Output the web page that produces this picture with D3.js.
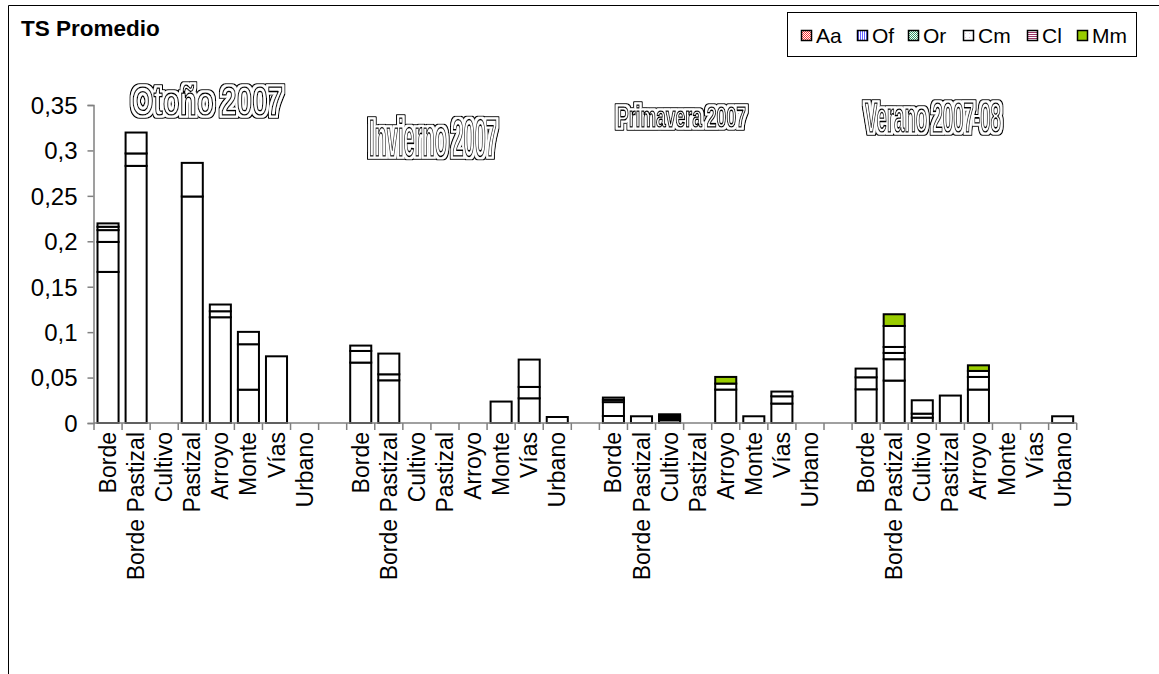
<!DOCTYPE html>
<html>
<head>
<meta charset="utf-8">
<script src="https://cdn.jsdelivr.net/npm/d3@7"></script>
<style>
  html, body { margin: 0; padding: 0; background: #fff; }
  svg { display: block; }
  text { font-family: Arial, "Liberation Sans", sans-serif; }
</style>
</head>
<body>
<svg id="chart" width="1159" height="674"></svg>
<script>
// Seasons (groups along the x axis) and habitat categories inside each season
const seasons = ["Otoño 2007", "Invierno 2007", "Primavera 2007", "Verano 2007-08"];
const habitats = ["Borde", "Borde Pastizal", "Cultivo", "Pastizal", "Arroyo", "Monte", "Vías", "Urbano"];
const seriesNames = ["Aa", "Of", "Or", "Cm", "Cl", "Mm"];
const yTicks = [0, 0.05, 0.1, 0.15, 0.2, 0.25, 0.3, 0.35];

// Average TS per species; 8 habitats per season, seasons in order
const Aa = [0.1663, 0.283, 0, 0.2493, 0.1164, 0.0367, 0.0734, 0,
            0.0665, 0.047, 0, 0, 0, 0.0236, 0.0272, 0.0066,
            0.0077, 0.0074, 0.003, 0, 0.0368, 0.0074, 0.0214, 0,
            0.0371, 0.0467, 0.0059, 0.0302, 0.0368, 0, 0, 0.0074];
const Of = [0.033, 0.0137, 0, 0.037, 0.0066, 0.05, 0, 0,
            0.0128, 0.0066, 0, 0, 0, 0, 0.0125, 0,
            0.0153, 0, 0.0022, 0, 0.0066, 0, 0.008, 0,
            0.0132, 0.0235, 0.0044, 0, 0.0139, 0, 0, 0];
const Or = [0.013, 0.023, 0, 0, 0.0074, 0.0136, 0, 0,
            0.0059, 0.0228, 0, 0, 0, 0, 0.0301, 0,
            0.0025, 0, 0.0022, 0, 0, 0, 0.0052, 0,
            0.0096, 0.0069, 0.0147, 0, 0.0066, 0, 0, 0];
const Cm = [0.0037, 0, 0, 0, 0, 0, 0, 0,
            0, 0, 0, 0, 0, 0, 0, 0,
            0.0025, 0, 0.0022, 0, 0, 0, 0, 0,
            0, 0.0066, 0, 0, 0, 0, 0, 0];
const Cl = [0.0037, 0, 0, 0, 0, 0, 0, 0,
            0, 0, 0, 0, 0, 0, 0, 0,
            0, 0, 0, 0, 0, 0, 0, 0,
            0, 0.0231, 0, 0, 0, 0, 0, 0];
const Mm = [0, 0, 0, 0, 0, 0, 0, 0,
            0, 0, 0, 0, 0, 0, 0, 0,
            0, 0, 0, 0, 0.0073, 0, 0, 0,
            0, 0.0129, 0, 0, 0.0062, 0, 0, 0];

const seriesValues = { Aa, Of, Or, Cm, Cl, Mm };

const svg = d3.select("#chart");
const defs = svg.append("defs");

// Fill patterns shown in the legend keys
function checker(id, color) {
  const p = defs.append("pattern").attr("id", id).attr("width", 2).attr("height", 2)
    .attr("patternUnits", "userSpaceOnUse");
  p.append("rect").attr("width", 2).attr("height", 2).attr("fill", "#fff");
  p.append("rect").attr("width", 1).attr("height", 1).attr("fill", color);
  p.append("rect").attr("x", 1).attr("y", 1).attr("width", 1).attr("height", 1).attr("fill", color);
}
checker("pAa", "#ff3333");
checker("pOr", "#339966");
{
  const p = defs.append("pattern").attr("id", "pOf").attr("width", 2).attr("height", 2)
    .attr("patternUnits", "userSpaceOnUse");
  p.append("rect").attr("width", 2).attr("height", 2).attr("fill", "#fff");
  p.append("rect").attr("width", 1).attr("height", 2).attr("fill", "#6666ff");
}
{
  const p = defs.append("pattern").attr("id", "pCm").attr("width", 4).attr("height", 4)
    .attr("patternUnits", "userSpaceOnUse");
  p.append("rect").attr("width", 4).attr("height", 4).attr("fill", "#fff");
  p.append("rect").attr("x", 1).attr("y", 1).attr("width", 1).attr("height", 1).attr("fill", "#e8c8d8");
}
{
  const p = defs.append("pattern").attr("id", "pCl").attr("width", 2).attr("height", 2)
    .attr("patternUnits", "userSpaceOnUse");
  p.append("rect").attr("width", 2).attr("height", 2).attr("fill", "#fff");
  p.append("rect").attr("width", 2).attr("height", 1).attr("fill", "#993366");
}
const legendFill = { Aa: "url(#pAa)", Of: "url(#pOf)", Or: "url(#pOr)", Cm: "url(#pCm)", Cl: "url(#pCl)", Mm: "#99cc00" };
const barFill = { Aa: "#fff", Of: "#fff", Or: "#fff", Cm: "#fff", Cl: "#fff", Mm: "#99cc00" };

// Chart frame
svg.append("path").attr("d", "M8.5,674 V5.5 H1159")
  .attr("fill", "none").attr("stroke", "#000").attr("stroke-width", 1);

svg.append("text").attr("x", 21).attr("y", 36)
  .attr("font-size", 22.5).attr("font-weight", "bold").text("TS Promedio");

// Slots: 8 habitats per season with an empty slot between seasons
const slots = [];
seasons.forEach((s, si) => {
  habitats.forEach((h, hi) => slots.push({ key: si + "-" + hi, season: si, habitat: h, idx: si * 8 + hi }));
  if (si < seasons.length - 1) slots.push({ key: "gap" + si, gap: true });
});

const x = d3.scaleBand().domain(slots.map(d => d.key)).range([94, 1076.7]).padding(0);
const y = d3.scaleLinear().domain([0, 0.35]).range([423, 105]);

// Rows for stacking
const rows = slots.filter(d => !d.gap).map(d => {
  const r = { key: d.key };
  seriesNames.forEach(n => r[n] = seriesValues[n][d.idx]);
  return r;
});
const stacked = d3.stack().keys(seriesNames)(rows);

const barW = x.bandwidth() * 0.75;
const barsG = svg.append("g");
stacked.forEach(layer => {
  barsG.selectAll(null)
    .data(layer.filter(d => d[1] - d[0] > 0))
    .join("rect")
    .attr("x", d => x(d.data.key) + (x.bandwidth() - barW) / 2)
    .attr("y", d => y(d[1]))
    .attr("width", barW)
    .attr("height", d => y(d[0]) - y(d[1]))
    .attr("fill", barFill[layer.key])
    .attr("stroke", "#000")
    .attr("stroke-width", 2);
});

// Y axis
const yAxis = d3.axisLeft(y).tickValues(yTicks).tickSize(6).tickPadding(10)
  .tickFormat(d => d3.format(",.2~f")(d).replace(".", ","));
const yg = svg.append("g").attr("transform", "translate(93.5,0)").call(yAxis);
yg.select(".domain").attr("stroke", "#808080").attr("stroke-width", 1.5);
yg.selectAll(".tick line").attr("stroke", "#808080").attr("stroke-width", 1.5);
yg.selectAll(".tick text").attr("font-size", 24).attr("font-family", "Arial, 'Liberation Sans', sans-serif")
  .attr("fill", "#000").attr("dy", "0.35em");

// X axis: baseline and boundary ticks
const xg = svg.append("g");
xg.append("line").attr("x1", 94).attr("x2", 1076.7).attr("y1", 423).attr("y2", 423)
  .attr("stroke", "#808080").attr("stroke-width", 1.5);
const boundaries = slots.map(d => x(d.key)).concat([x.range()[1]]);
xg.selectAll("line.tick").data(boundaries).join("line").attr("class", "tick")
  .attr("x1", d => d).attr("x2", d => d).attr("y1", 423).attr("y2", 430)
  .attr("stroke", "#808080").attr("stroke-width", 1.5);

// Category labels, vertical
xg.selectAll("text.cat").data(slots.filter(d => !d.gap)).join("text").attr("class", "cat")
  .attr("transform", d => `translate(${x(d.key) + x.bandwidth() / 2 + 8},432) rotate(-90)`)
  .attr("text-anchor", "end")
  .attr("font-size", 23)
  .text(d => d.habitat);

// Season headings: condensed lettering stretched to a box, with a double outline
const headingBoxes = [
  { x: 132, top: 86, bottom: 115, w: 151 },
  { x: 369, top: 118, bottom: 156, w: 128 },
  { x: 617, top: 105, bottom: 127, w: 129 },
  { x: 865, top: 101, bottom: 132, w: 136 }
];
const capRatio = 0.73;
seasons.forEach((s, i) => {
  const b = headingBoxes[i];
  const t = svg.append("text")
    .attr("font-family", "'Liberation Sans Narrow', 'DejaVu Sans Condensed', sans-serif")
    .attr("font-weight", "bold").attr("font-size", 40)
    .text(s);
  const natural = t.node().getComputedTextLength();
  const size = 40 * b.w / natural;
  const sy = (b.bottom - b.top) / (capRatio * size);
  const fid = "outline" + i;
  const f = defs.append("filter").attr("id", fid)
    .attr("x", "-10%").attr("y", "-20%").attr("width", "120%").attr("height", "140%");
  f.append("feMorphology").attr("in", "SourceAlpha").attr("operator", "dilate")
    .attr("radius", `3 ${3 / sy}`).attr("result", "big");
  f.append("feMorphology").attr("in", "SourceAlpha").attr("operator", "dilate")
    .attr("radius", `1.6 ${1.6 / sy}`).attr("result", "mid");
  f.append("feFlood").attr("flood-color", "#000").attr("result", "black");
  f.append("feComposite").attr("in", "black").attr("in2", "big").attr("operator", "in").attr("result", "ringOuter");
  f.append("feFlood").attr("flood-color", "#fff").attr("result", "white");
  f.append("feComposite").attr("in", "white").attr("in2", "mid").attr("operator", "in").attr("result", "ringMid");
  const m = f.append("feMerge");
  m.append("feMergeNode").attr("in", "ringOuter");
  m.append("feMergeNode").attr("in", "ringMid");
  m.append("feMergeNode").attr("in", "SourceGraphic");
  t.attr("font-size", size)
    .attr("transform", `translate(${b.x},${b.bottom}) scale(1,${sy})`)
    .attr("fill", "#fff").attr("stroke", "#000").attr("stroke-width", 1.3)
    .attr("vector-effect", "non-scaling-stroke")
    .attr("stroke-linejoin", "round")
    .attr("filter", `url(#${fid})`);
});

// Legend
const lg = svg.append("g");
lg.append("rect").attr("x", 787.5).attr("y", 12.5).attr("width", 349).attr("height", 44)
  .attr("fill", "#fff").attr("stroke", "#000").attr("stroke-width", 1);
const legendX = [801, 857, 908, 963, 1027, 1077];
seriesNames.forEach((n, i) => {
  lg.append("rect").attr("x", legendX[i] + 0.5).attr("y", 30.5).attr("width", 10).attr("height", 10)
    .attr("fill", legendFill[n]).attr("stroke", "#000").attr("stroke-width", 1.5);
  lg.append("text").attr("x", legendX[i] + 15).attr("y", 35.5).attr("dy", "0.35em")
    .attr("font-size", 21).text(n);
});
</script>
</body>
</html>
